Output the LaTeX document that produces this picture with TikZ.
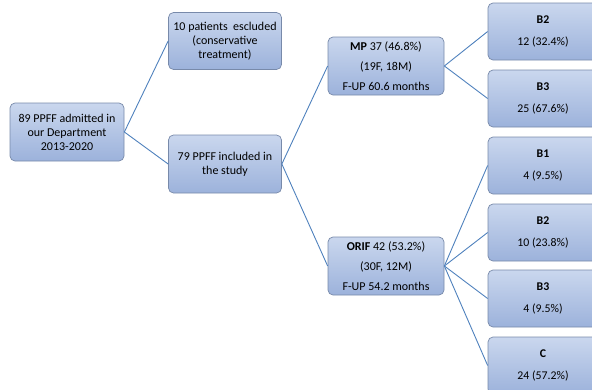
\documentclass[tikz,border=0pt]{standalone}
\usepackage{fontspec}
\setmainfont{Carlito}
\definecolor{boxtop}{RGB}{202,215,238}
\definecolor{boxbot}{RGB}{156,178,219}
\definecolor{boxline}{RGB}{120,138,170}
\definecolor{conn}{RGB}{79,129,189}
\tikzset{
  box/.style={draw=boxline, line width=0.7pt, rounded corners=5pt, top color=boxtop, bottom color=boxbot, align=center, inner sep=2pt, text=black},
  leftbox/.style={box, minimum width=114pt, minimum height=58pt, font=\fontsize{12}{14}\selectfont},
  midbox/.style={box, minimum width=116pt, minimum height=58pt, font=\fontsize{12}{20}\selectfont},
  rightbox/.style={box, minimum width=110pt, minimum height=57pt, font=\fontsize{11.8}{22}\selectfont},
  conn/.style={draw=conn, line width=0.9pt}
}
\begin{document}
\begin{tikzpicture}[x=1pt,y=-1pt]
\useasboundingbox (0,0) rectangle (592,389);
\clip (0,0) rectangle (592,389);
\node[leftbox] (a) at (67,132) {89 PPFF admitted in\\our Department\\2013-2020};
\node[leftbox, minimum width=113pt, minimum height=57pt] (ex) at (225,41) {10 patients\ \ escluded\\(conservative\\treatment)};
\node[leftbox, minimum width=113pt, minimum height=58pt] (in) at (225,164) {79 PPFF included in\\the study};
\node[midbox] (mp) at (386,66) {\textbf{MP} 37 (46.8\%)\\(19F, 18M)\\F-UP 60.6 months};
\node[midbox] (orif) at (386,266) {\textbf{ORIF} 42 (53.2\%)\\(30F, 12M)\\F-UP 54.2 months};
\node[rightbox] (r1) at (543,31.5) {\textbf{B2}\\12 (32.4\%)};
\node[rightbox] (r2) at (543,98.5) {\textbf{B3}\\25 (67.6\%)};
\node[rightbox] (r3) at (543,165.5) {\textbf{B1}\\4 (9.5\%)};
\node[rightbox] (r4) at (543,232.5) {\textbf{B2}\\10 (23.8\%)};
\node[rightbox] (r5) at (543,298.5) {\textbf{B3}\\4 (9.5\%)};
\node[rightbox] (r6) at (543,365.5) {\textbf{C}\\24 (57.2\%)};
\draw[conn] (a.east) -- (ex.west);
\draw[conn] (a.east) -- (in.west);
\draw[conn] (in.east) -- (mp.west);
\draw[conn] (in.east) -- (orif.west);
\draw[conn] (mp.east) -- (r1.west);
\draw[conn] (mp.east) -- (r2.west);
\draw[conn] (orif.east) -- (r3.west);
\draw[conn] (orif.east) -- (r4.west);
\draw[conn] (orif.east) -- (r5.west);
\draw[conn] (orif.east) -- (r6.west);
\end{tikzpicture}
\end{document}
